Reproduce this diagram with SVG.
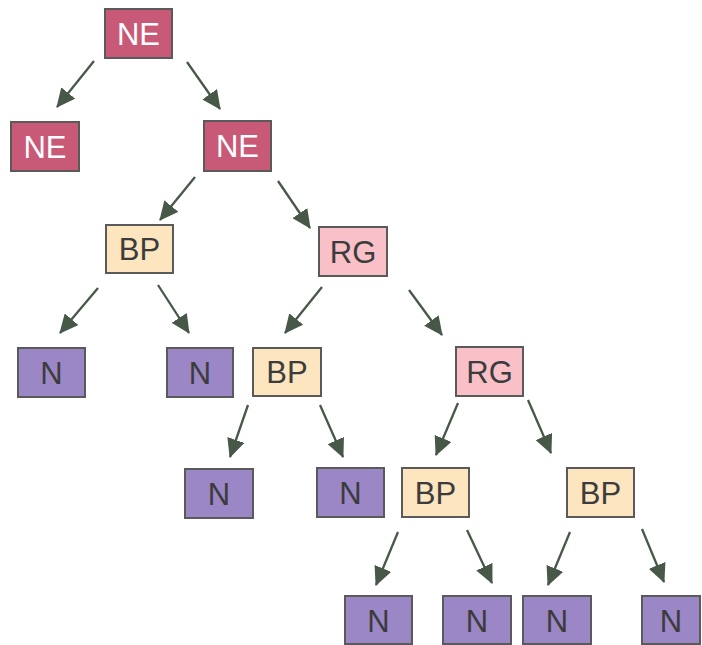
<svg xmlns="http://www.w3.org/2000/svg" width="702" height="645" viewBox="0 0 702 645">
  <style>
    .box { stroke: #5a5a5a; stroke-width: 2; }
    .ne { fill: #c85a78; }
    .bp { fill: #fde5bf; }
    .rg { fill: #f9c0c8; }
    .n  { fill: #9b86c6; }
    .lbl { font-family: "Liberation Sans", Arial, sans-serif; font-size: 31px; text-anchor: middle; fill: #3c3c3c; }
    .lbl.w { fill: #ffffff; }
    .edge { stroke: #475848; stroke-width: 2.3; fill: none; marker-end: url(#head); }
  </style>
  <defs>
    <marker id="head" markerUnits="userSpaceOnUse" markerWidth="19" markerHeight="18" viewBox="0 0 19 18" refX="18" refY="9" orient="auto">
      <path d="M0,0 L19,9 L0,18 Z" fill="#475848"/>
    </marker>
  </defs>
  <rect width="702" height="645" fill="#ffffff"/>

  <g id="connectors">
    <line class="edge" x1="94" y1="61" x2="57" y2="107"/>
    <line class="edge" x1="187" y1="62" x2="220" y2="109"/>
    <line class="edge" x1="195" y1="177" x2="160" y2="220"/>
    <line class="edge" x1="278" y1="181" x2="310" y2="228"/>
    <line class="edge" x1="98" y1="288" x2="60" y2="333"/>
    <line class="edge" x1="158" y1="285" x2="189" y2="333"/>
    <line class="edge" x1="322" y1="287" x2="285" y2="333"/>
    <line class="edge" x1="409" y1="290" x2="442" y2="335"/>
    <line class="edge" x1="248" y1="405" x2="230" y2="457"/>
    <line class="edge" x1="320" y1="405" x2="343" y2="457"/>
    <line class="edge" x1="458" y1="403" x2="436" y2="455"/>
    <line class="edge" x1="528" y1="400" x2="551" y2="453"/>
    <line class="edge" x1="398" y1="532" x2="376" y2="585"/>
    <line class="edge" x1="467" y1="530" x2="492" y2="583"/>
    <line class="edge" x1="570" y1="532" x2="548" y2="585"/>
    <line class="edge" x1="642" y1="529" x2="664" y2="582"/>
  </g>

  <g id="ne-root"><rect class="box ne" x="105" y="9" width="67" height="49"/><text class="lbl w" x="138.5" y="45">NE</text></g>
  <g id="ne-left"><rect class="box ne" x="11" y="122" width="68" height="49"/><text class="lbl w" x="45" y="158">NE</text></g>
  <g id="ne-right"><rect class="box ne" x="204" y="121" width="67" height="50"/><text class="lbl w" x="237.5" y="157">NE</text></g>

  <g id="bp-1"><rect class="box bp" x="106" y="225" width="67" height="48"/><text class="lbl" x="139.5" y="260">BP</text></g>
  <g id="rg-1"><rect class="box rg" x="319" y="227" width="68" height="49"/><text class="lbl" x="353" y="263">RG</text></g>

  <g id="n-1"><rect class="box n" x="18" y="348" width="67" height="49"/><text class="lbl" x="51.5" y="384">N</text></g>
  <g id="n-2"><rect class="box n" x="167" y="348" width="66" height="49"/><text class="lbl" x="200" y="384">N</text></g>
  <g id="bp-2"><rect class="box bp" x="253" y="348" width="68" height="48"/><text class="lbl" x="287" y="383">BP</text></g>
  <g id="rg-2"><rect class="box rg" x="456" y="347" width="67" height="49"/><text class="lbl" x="489.5" y="383">RG</text></g>

  <g id="n-3"><rect class="box n" x="185" y="469" width="68" height="49"/><text class="lbl" x="219" y="505">N</text></g>
  <g id="n-4"><rect class="box n" x="317" y="468" width="67" height="49"/><text class="lbl" x="350.5" y="504">N</text></g>
  <g id="bp-3"><rect class="box bp" x="402" y="468" width="67" height="49"/><text class="lbl" x="435.5" y="504">BP</text></g>
  <g id="bp-4"><rect class="box bp" x="567" y="468" width="67" height="49"/><text class="lbl" x="600.5" y="504">BP</text></g>

  <g id="n-5"><rect class="box n" x="345" y="596" width="67" height="48"/><text class="lbl" x="378.5" y="632">N</text></g>
  <g id="n-6"><rect class="box n" x="443" y="596" width="68" height="48"/><text class="lbl" x="477" y="632">N</text></g>
  <g id="n-7"><rect class="box n" x="523" y="596" width="68" height="48"/><text class="lbl" x="557" y="632">N</text></g>
  <g id="n-8"><rect class="box n" x="642" y="596" width="58" height="48"/><text class="lbl" x="671" y="632">N</text></g>
</svg>
